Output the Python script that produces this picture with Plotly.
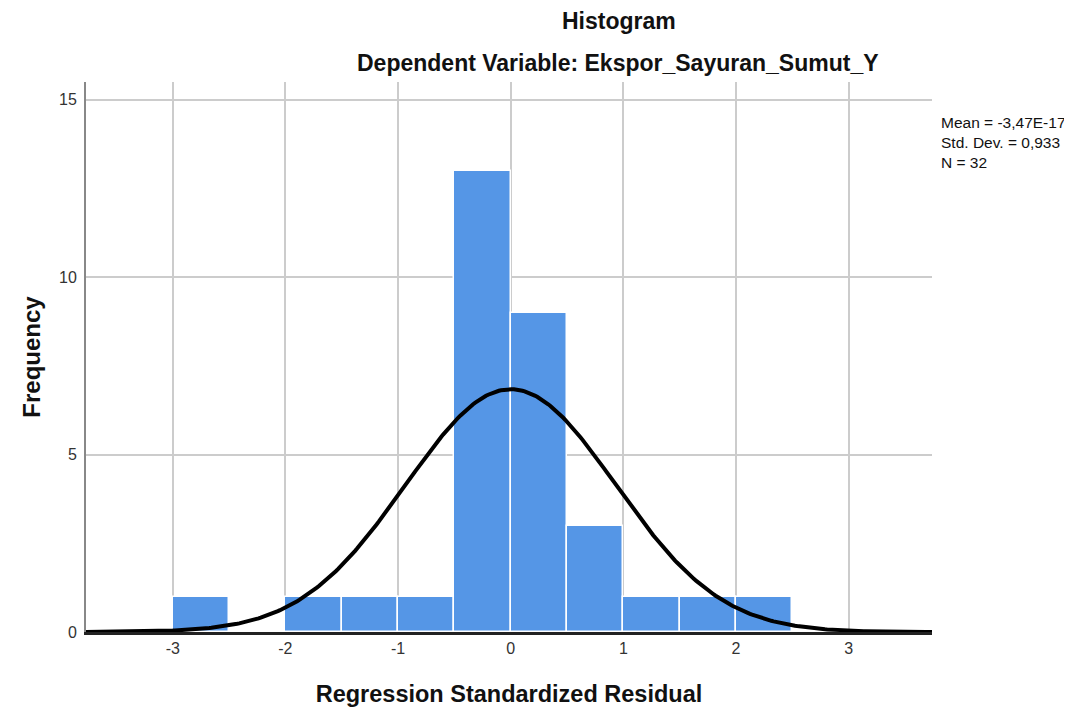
import numpy as np
import plotly.graph_objects as go

# Data
bin_left = [-3.0, -2.5, -2.0, -1.5, -1.0, -0.5, 0.0, 0.5, 1.0, 1.5, 2.0]
counts = [1, 0, 1, 1, 1, 13, 9, 3, 1, 1, 1]
bin_width = 0.5
mean_val = -3.47e-17
std_val = 0.933
n_val = 32
x_ticks = [-3, -2, -1, 0, 1, 2, 3]
y_ticks = [0, 5, 10, 15]

centers = [b + bin_width / 2 for b in bin_left]

fig = go.Figure()
fig.add_trace(go.Bar(
    x=centers, y=counts, width=bin_width,
    marker=dict(color="#5596E6", line=dict(color="white", width=1.5)),
    showlegend=False, hoverinfo="skip",
))

xs = np.linspace(-3.8, 3.8, 400)
ys = n_val * bin_width * np.exp(-0.5 * ((xs - mean_val) / std_val) ** 2) / (std_val * np.sqrt(2 * np.pi))
fig.add_trace(go.Scatter(x=xs, y=ys, mode="lines", line=dict(color="black", width=4),
                         showlegend=False, hoverinfo="skip"))

# page offset (body margin) compensation
OFF = 8
L, T, R, B = 86 - OFF, 82 - OFF, 1072 - (932 - OFF), 710 - (632 - OFF)
pw = 1072 - L - R
ph = 710 - T - B

def px(x):
    return (x - OFF - L) / pw

def py(y):
    return 1 - (y - OFF - T) / ph

font = "Liberation Sans, Arial, sans-serif"
fig.update_layout(
    width=1072, height=710,
    margin=dict(l=L, r=R, t=T, b=B),
    plot_bgcolor="white", paper_bgcolor="white",
    bargap=0,
    font=dict(family=font, color="#222"),
    xaxis=dict(range=[-3.77, 3.74], tickvals=x_ticks, ticktext=[str(v) for v in x_ticks],
               showgrid=True, gridcolor="#CCCCCC", gridwidth=1.5, zeroline=False,
               showline=True, linecolor="#222", linewidth=2.5, ticks="", ticklen=0,
               tickfont=dict(size=16, color="#333"),
               title=dict(text="<b>Regression Standardized Residual</b>", font=dict(size=23.5, color="#111"), standoff=30)),
    yaxis=dict(range=[0, 15.5], tickvals=y_ticks, showgrid=True, gridcolor="#CCCCCC", gridwidth=1.5,
               zeroline=False, showline=True, linecolor="#888", linewidth=2,
               ticks="outside", ticklen=4, tickcolor="rgba(0,0,0,0)",
               tickfont=dict(size=16, color="#333"),
               title=dict(text="<b>Frequency</b>", font=dict(size=24, color="#111"), standoff=12)),
    annotations=[
        dict(text="<b>Histogram</b>", x=px(619), y=py(21), xref="paper", yref="paper", showarrow=False,
             yanchor="middle", borderpad=0, font=dict(size=23, color="#111")),
        dict(text="<b>Dependent Variable: Ekspor_Sayuran_Sumut_Y</b>", x=px(618), y=py(63), xref="paper",
             yref="paper", yanchor="middle", showarrow=False, font=dict(size=23, color="#111")),
        dict(text=f"Mean = -3,47E-17<br>Std. Dev. = 0,933<br>N = {n_val}", x=px(939), y=py(112),
             xref="paper", yref="paper", showarrow=False, align="left", xanchor="left", yanchor="top",
             font=dict(size=15.5, color="#111")),
    ],
)
fig.write_html("out.html")
